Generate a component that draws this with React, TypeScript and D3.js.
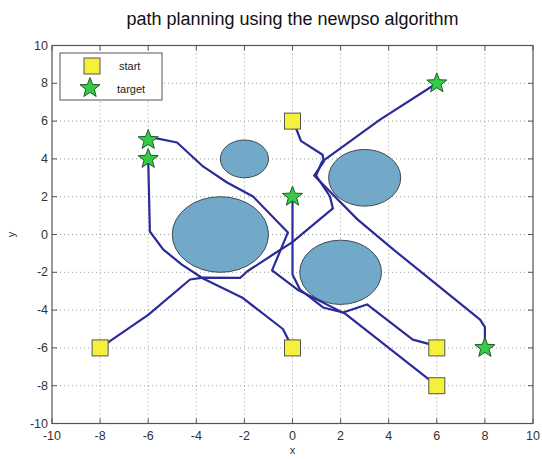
import React from "react";
import * as d3 from "d3";

// Obstacles: centre x, centre y, radius (data units)
const obstacleX = [-3, -2, 3, 2];
const obstacleY = [0, 4, 3, -2];
const obstacleR = [2, 1, 1.5, 1.7];

// Start and target points
const startPoints: [number, number][] = [[0, 6], [-8, -6], [0, -6], [6, -6], [6, -8]];
const targetPoints: [number, number][] = [[-6, 5], [-6, 4], [0, 2], [6, 8], [8, -6]];

// Planned paths (waypoints)
const path1: [number, number][] = [[0, 6], [0.2, 5.45], [0.35, 4.95], [1.25, 4.22], [1.3, 3.85], [0.9, 3.12], [2.7, 0.8], [4.2, -0.8], [6, -2.65], [7.8, -4.5], [8, -4.9], [8, -6]];
const path2: [number, number][] = [[-8, -6], [-6, -4.25], [-4.26, -2.38], [-3.72, -2.28], [-2.18, -2.3], [-1.89, -1.96], [-0.81, -1.06], [-0.02, -0.42], [1.68, 1.38], [1.56, 2.01], [0.98, 3.12], [1.23, 3.86], [3.64, 6.08], [6, 8]];
const path3: [number, number][] = [[0, -6], [-0.4, -5.0], [-2.1, -3.33], [-3.72, -2.33], [-4.6, -1.59], [-5.38, -0.79], [-5.93, 0.16], [-6, 4]];
const path4: [number, number][] = [[0, 2], [0, -2.12], [0.31, -2.91], [1.27, -3.86], [2.1, -4.13], [3.1, -3.7], [5.0, -5.56], [5.7, -5.8], [6, -6]];
const path5: [number, number][] = [[-6, 5], [-5.9, 5.15], [-4.8, 4.87], [-3.72, 3.6], [-2.72, 2.75], [-1.64, 2.01], [-0.19, 0.11], [-0.85, -1.9], [0.25, -2.95], [2.2, -4.2], [6, -8]];
const paths = [path1, path2, path3, path4, path5];

const ticks = [-10, -8, -6, -4, -2, 0, 2, 4, 6, 8, 10];

const W = 542;
const H = 459;
const left = 52, right = 533, top = 45.5, bottom = 423.5;

const x = d3.scaleLinear().domain([-10, 10]).range([left, right]);
const y = d3.scaleLinear().domain([-10, 10]).range([bottom, top]);

function starPath(cx: number, cy: number, R: number, r: number) {
  const pts: [number, number][] = [];
  for (let i = 0; i < 10; i++) {
    const a = -Math.PI / 2 + (i * Math.PI) / 5;
    const rad = i % 2 === 0 ? R : r;
    pts.push([cx + rad * Math.cos(a), cy + rad * Math.sin(a)]);
  }
  return "M" + pts.map((p) => p.join(",")).join("L") + "Z";
}

const line = d3.line<[number, number]>().x((d) => x(d[0])).y((d) => y(d[1]));

const SQ = 16;
const pathColor = "#2a2a9a";
const yellow = "#f5f03a";
const green = "#33cc44";

export default function App() {
  const font = "'Liberation Sans', Arial, sans-serif";
  return (
    <svg width={W} height={H} style={{ position: "absolute", left: 0, top: 0, background: "#fff" }} fontFamily={font}>
      <rect x={0} y={0} width={W} height={H} fill="#fff" />
      <text x={(left + right) / 2} y={25} textAnchor="middle" fontSize={18} fill="#111">
        path planning using the newpso algorithm
      </text>
      {/* grid */}
      {ticks.slice(1, -1).map((t) => (
        <g key={"g" + t}>
          <line x1={x(t)} x2={x(t)} y1={top} y2={bottom} stroke="#999" strokeWidth={1} strokeDasharray="1,3" />
          <line x1={left} x2={right} y1={y(t)} y2={y(t)} stroke="#999" strokeWidth={1} strokeDasharray="1,3" />
        </g>
      ))}
      {/* obstacles */}
      {obstacleX.map((cx, i) => (
        <ellipse
          key={"o" + i}
          cx={x(cx)}
          cy={y(obstacleY[i])}
          rx={x(obstacleR[i]) - x(0)}
          ry={y(0) - y(obstacleR[i])}
          fill="#72a9c9"
          stroke="#3c4a52"
          strokeWidth={1}
        />
      ))}
      {/* paths */}
      {paths.map((p, i) => (
        <path key={"p" + i} d={line(p) || ""} fill="none" stroke={pathColor} strokeWidth={2.2} strokeLinejoin="round" />
      ))}
      {/* start markers */}
      {startPoints.map((p, i) => (
        <rect key={"s" + i} x={x(p[0]) - SQ / 2} y={y(p[1]) - SQ / 2} width={SQ} height={SQ} fill={yellow} stroke="#555" strokeWidth={1} />
      ))}
      {/* target markers */}
      {targetPoints.map((p, i) => (
        <path key={"t" + i} d={starPath(x(p[0]), y(p[1]), 10.5, 4.4)} fill={green} stroke="#1f5a2a" strokeWidth={1} />
      ))}
      {/* frame */}
      <rect x={left} y={top} width={right - left} height={bottom - top} fill="none" stroke="#555" strokeWidth={1.2} />
      {ticks.map((t) => (
        <g key={"tk" + t}>
          <line x1={x(t)} x2={x(t)} y1={bottom} y2={bottom - 5} stroke="#555" />
          <line x1={x(t)} x2={x(t)} y1={top} y2={top + 5} stroke="#555" />
          <line x1={left} x2={left + 5} y1={y(t)} y2={y(t)} stroke="#555" />
          <line x1={right} x2={right - 5} y1={y(t)} y2={y(t)} stroke="#555" />
          <text x={x(t)} y={bottom + 16} textAnchor="middle" fontSize={12.5} fill="#333">{t}</text>
          <text x={left - 4} y={y(t) + 4} textAnchor="end" fontSize={12.5} fill="#333">{t}</text>
        </g>
      ))}
      <text x={x(0)} y={454} textAnchor="middle" fontSize={11} fill="#333">x</text>
      <text transform={`translate(15, ${y(0)}) rotate(-90)`} textAnchor="middle" fontSize={11} fill="#333">y</text>
      {/* legend */}
      <rect x={60} y={53} width={102} height={47} fill="#fff" stroke="#555" strokeWidth={1} />
      <rect x={92 - SQ / 2} y={66 - SQ / 2} width={SQ} height={SQ} fill={yellow} stroke="#555" strokeWidth={1} />
      <path d={starPath(90, 88, 10.5, 4.4)} fill={green} stroke="#1f5a2a" strokeWidth={1} />
      <text x={119} y={70} fontSize={11} fill="#222">start</text>
      <text x={117} y={93} fontSize={11} fill="#222">target</text>
    </svg>
  );
}
